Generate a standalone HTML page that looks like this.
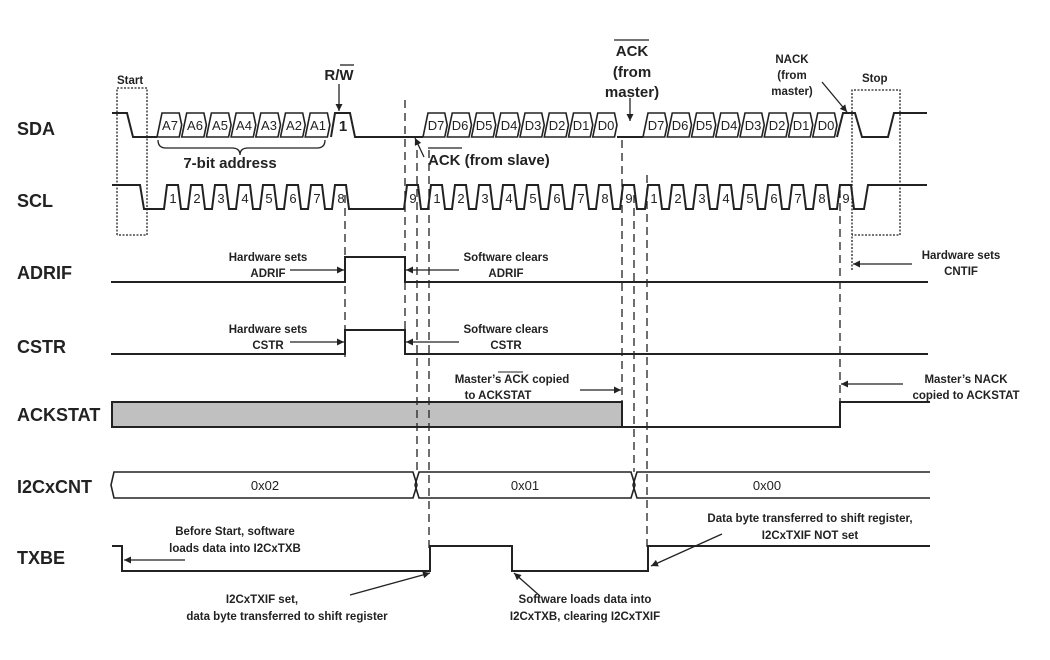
<!DOCTYPE html>
<html><head><meta charset="utf-8"><style>
html,body{margin:0;padding:0;background:#fff}
svg{display:block}
text{font-family:"Liberation Sans",Arial,sans-serif;fill:#222}
.n{font-size:18px;font-weight:bold}
.a{font-size:11.5px;font-weight:bold}
.c{font-size:13px}
.b{font-size:15px;font-weight:bold}
</style></head><body>
<svg width="1050" height="660" viewBox="0 0 1050 660" xmlns="http://www.w3.org/2000/svg">
<defs>
<marker id="ar" viewBox="0 0 10 10" refX="10" refY="5" markerWidth="9" markerHeight="7" markerUnits="userSpaceOnUse" orient="auto"><path d="M0,0 L10,5 L0,10 z" fill="#222"/></marker>
</defs>
<g fill="none" stroke="#222" stroke-width="2">
<!-- SDA -->
<polyline points="112,113 127,113 133,137 157,137"/>
<polyline points="331,137 335,113 350,113 355,137 423,137"/>
<polyline points="617,137 643,137"/>
<polyline points="837,137 843,113 855,113 862,137 888,137 894,113 927,113"/>
<!-- SCL -->
<path d="M112,185 H140 L144,209 H164 l3,-24 h11 l3,24 H188 l3,-24 h11 l3,24 H212 l3,-24 h11 l3,24 H236 l3,-24 h11 l3,24 H260 l3,-24 h11 l3,24 H284 l3,-24 h11 l3,24 H308 l3,-24 h11 l3,24 H332 l3,-24 h11 l3,24 H404 l3,-24 h11 l3,24 H428 l3,-24 h11 l3,24 H452 l3,-24 h11 l3,24 H476 l3,-24 h11 l3,24 H500 l3,-24 h11 l3,24 H524 l3,-24 h11 l3,24 H548 l3,-24 h11 l3,24 H572 l3,-24 h11 l3,24 H596 l3,-24 h11 l3,24 H620 l3,-24 h11 l3,24 H645 l3,-24 h11 l3,24 H669 l3,-24 h11 l3,24 H693 l3,-24 h11 l3,24 H717 l3,-24 h11 l3,24 H741 l3,-24 h11 l3,24 H765 l3,-24 h11 l3,24 H789 l3,-24 h11 l3,24 H813 l3,-24 h11 l3,24 H837 l3,-24 h11 l3,24 H864 L868,185 H927"/>
<!-- ADRIF -->
<polyline points="111,282 345,282 345,257 405,257 405,282 928,282"/>
<!-- CSTR -->
<polyline points="111,354 345,354 345,330 405,330 405,354 928,354"/>
<!-- ACKSTAT -->
<polyline points="622,427 840,427 840,402 930,402"/>
<!-- TXBE -->
<polyline points="112,546 122,546 122,571 430,571 430,546 512,546 512,571 648,571 648,546 930,546"/>
</g>
<rect x="112" y="402" width="510" height="25" fill="#c0c0c0" stroke="#222" stroke-width="2"/>
<!-- I2CxCNT -->
<g fill="none" stroke="#222" stroke-width="1.6">
<polyline points="930,472 637,472 633,485 637,498 930,498"/>
<polygon points="114,472 413,472 417,485 413,498 114,498 111,485"/>
<polygon points="419,472 631,472 635,485 631,498 419,498 415,485"/>
</g>
<!-- SDA cells -->
<g fill="none" stroke="#222" stroke-width="1.6">
<polygon points="157,137 162,113 179.2,113 181.7,125 179.2,137"/>
<polygon points="181.7,137 186.7,113 203.9,113 206.4,125 203.9,137"/>
<polygon points="206.4,137 211.4,113 228.6,113 231.1,125 228.6,137"/>
<polygon points="231.1,137 236.1,113 253.3,113 255.8,125 253.3,137"/>
<polygon points="255.8,137 260.8,113 278,113 280.5,125 278,137"/>
<polygon points="280.5,137 285.5,113 302.7,113 305.2,125 302.7,137"/>
<polygon points="305.2,137 310.2,113 327.4,113 329.9,125 327.4,137"/>

<polygon points="423,137 428,113 444.75,113 447.25,125 444.75,137"/>
<polygon points="447.25,137 452.25,113 469,113 471.5,125 469,137"/>
<polygon points="471.5,137 476.5,113 493.25,113 495.75,125 493.25,137"/>
<polygon points="495.75,137 500.75,113 517.5,113 520,125 517.5,137"/>
<polygon points="520,137 525,113 541.75,113 544.25,125 541.75,137"/>
<polygon points="544.25,137 549.25,113 566,113 568.5,125 566,137"/>
<polygon points="568.5,137 573.5,113 590.25,113 592.75,125 590.25,137"/>
<polygon points="592.75,137 597.75,113 614.5,113 617,125 614.5,137"/>

<polygon points="643,137 648,113 664.75,113 667.25,125 664.75,137"/>
<polygon points="667.25,137 672.25,113 689,113 691.5,125 689,137"/>
<polygon points="691.5,137 696.5,113 713.25,113 715.75,125 713.25,137"/>
<polygon points="715.75,137 720.75,113 737.5,113 740,125 737.5,137"/>
<polygon points="740,137 745,113 761.75,113 764.25,125 761.75,137"/>
<polygon points="764.25,137 769.25,113 786,113 788.5,125 786,137"/>
<polygon points="788.5,137 793.5,113 810.25,113 812.75,125 810.25,137"/>
<polygon points="812.75,137 817.75,113 834.5,113 837,125 834.5,137"/>
</g>
<g class="c" text-anchor="middle">
<text x="170" y="130">A7</text><text x="195" y="130">A6</text><text x="220" y="130">A5</text><text x="244" y="130">A4</text><text x="269" y="130">A3</text><text x="294" y="130">A2</text><text x="318" y="130">A1</text>
<text x="436" y="130">D7</text><text x="460" y="130">D6</text><text x="484" y="130">D5</text><text x="509" y="130">D4</text><text x="533" y="130">D3</text><text x="557" y="130">D2</text><text x="581" y="130">D1</text><text x="606" y="130">D0</text>
<text x="656" y="130">D7</text><text x="680" y="130">D6</text><text x="704" y="130">D5</text><text x="729" y="130">D4</text><text x="753" y="130">D3</text><text x="777" y="130">D2</text><text x="801" y="130">D1</text><text x="826" y="130">D0</text>
<text x="173" y="203">1</text><text x="197" y="203">2</text><text x="221" y="203">3</text><text x="245" y="203">4</text><text x="269" y="203">5</text><text x="293" y="203">6</text><text x="317" y="203">7</text><text x="341" y="203">8</text>
<text x="413" y="203">9</text>
<text x="437" y="203">1</text><text x="461" y="203">2</text><text x="485" y="203">3</text><text x="509" y="203">4</text><text x="533" y="203">5</text><text x="557" y="203">6</text><text x="581" y="203">7</text><text x="605" y="203">8</text>
<text x="629" y="203">9</text>
<text x="654" y="203">1</text><text x="678" y="203">2</text><text x="702" y="203">3</text><text x="726" y="203">4</text><text x="750" y="203">5</text><text x="774" y="203">6</text><text x="798" y="203">7</text><text x="822" y="203">8</text>
<text x="846" y="203">9</text>
</g>
<text x="343" y="131" font-size="15" font-weight="bold" text-anchor="middle">1</text>
<!-- dashed -->
<g stroke="#222" stroke-width="1.3" stroke-dasharray="8,5" fill="none">
<line x1="345" y1="195" x2="345" y2="357"/>
<line x1="405" y1="100" x2="405" y2="357"/>
<line x1="417" y1="150" x2="417" y2="472"/>
<line x1="429" y1="150" x2="429" y2="548"/>
<line x1="622" y1="140" x2="622" y2="402"/>
<line x1="634" y1="195" x2="634" y2="472"/>
<line x1="647" y1="175" x2="647" y2="548"/>
<line x1="840" y1="190" x2="840" y2="402"/>
</g>
<g stroke="#222" stroke-width="1.3" stroke-dasharray="2,1.5" fill="none">
<polyline points="117,235 117,88 147,88 147,235 117,235"/>
<polyline points="852,270 852,90 900,90 900,235 852,235"/>
</g>
<!-- arrows -->
<g stroke="#222" stroke-width="1.3" fill="none" marker-end="url(#ar)">
<line x1="339" y1="84" x2="339" y2="111"/>
<line x1="630" y1="98" x2="630" y2="121"/>
<line x1="822" y1="82" x2="847" y2="112"/>
<line x1="424" y1="157" x2="415" y2="138"/>
<line x1="290" y1="270" x2="344" y2="270"/>
<line x1="459" y1="270" x2="406" y2="270"/>
<line x1="290" y1="342" x2="344" y2="342"/>
<line x1="459" y1="342" x2="406" y2="342"/>
<line x1="912" y1="264" x2="853" y2="264"/>
<line x1="580" y1="390" x2="621" y2="390"/>
<line x1="903" y1="384" x2="841" y2="384"/>
<line x1="185" y1="560" x2="124" y2="560"/>
<line x1="350" y1="595" x2="430" y2="573"/>
<line x1="540" y1="596" x2="514" y2="573"/>
<line x1="722" y1="534" x2="651" y2="566"/>
</g>
<!-- brace -->
<path d="M158,140 Q158,148 166,148 L232,148 Q240,148 240,155 Q240,148 248,148 L317,148 Q325,148 325,140" fill="none" stroke="#222" stroke-width="1.3"/>
<!-- signal names -->
<text class="n" x="17" y="135">SDA</text>
<text class="n" x="17" y="207">SCL</text>
<text class="n" x="17" y="279">ADRIF</text>
<text class="n" x="17" y="353">CSTR</text>
<text class="n" x="17" y="421">ACKSTAT</text>
<text class="n" x="17" y="493">I2CxCNT</text>
<text class="n" x="17" y="564">TXBE</text>
<!-- top labels -->
<text class="a" x="117" y="84">Start</text>
<text class="a" x="862" y="82">Stop</text>
<text class="b" x="339" y="80" text-anchor="middle">R/W</text>
<line x1="340" y1="65" x2="354" y2="65" stroke="#222" stroke-width="1.3"/>
<text class="b" x="230" y="168" text-anchor="middle">7-bit address</text>
<text class="b" x="632" y="56" text-anchor="middle">ACK</text>
<line x1="614" y1="40" x2="649" y2="40" stroke="#222" stroke-width="1.3"/>
<text class="b" x="632" y="77" text-anchor="middle">(from</text>
<text class="b" x="632" y="97" text-anchor="middle">master)</text>
<text class="b" x="428" y="165">ACK (from slave)</text>
<line x1="428" y1="148" x2="462" y2="148" stroke="#222" stroke-width="1.3"/>
<text class="a" x="792" y="63" text-anchor="middle">NACK</text>
<text class="a" x="792" y="79" text-anchor="middle">(from</text>
<text class="a" x="792" y="95" text-anchor="middle">master)</text>
<!-- annotations -->
<text class="a" x="268" y="261" text-anchor="middle">Hardware sets</text>
<text class="a" x="268" y="277" text-anchor="middle">ADRIF</text>
<text class="a" x="506" y="261" text-anchor="middle">Software clears</text>
<text class="a" x="506" y="277" text-anchor="middle">ADRIF</text>
<text class="a" x="268" y="333" text-anchor="middle">Hardware sets</text>
<text class="a" x="268" y="349" text-anchor="middle">CSTR</text>
<text class="a" x="506" y="333" text-anchor="middle">Software clears</text>
<text class="a" x="506" y="349" text-anchor="middle">CSTR</text>
<text class="a" x="961" y="259" text-anchor="middle">Hardware sets</text>
<text class="a" x="961" y="275" text-anchor="middle">CNTIF</text>
<text class="a" x="512" y="383" text-anchor="middle">Master’s ACK copied</text>
<line x1="498" y1="372" x2="523" y2="372" stroke="#222" stroke-width="1"/>
<text class="a" x="498" y="399" text-anchor="middle">to ACKSTAT</text>
<text class="a" x="966" y="383" text-anchor="middle">Master’s NACK</text>
<text class="a" x="966" y="399" text-anchor="middle">copied to ACKSTAT</text>
<text class="c" x="265" y="490" text-anchor="middle">0x02</text>
<text class="c" x="525" y="490" text-anchor="middle">0x01</text>
<text class="c" x="767" y="490" text-anchor="middle">0x00</text>
<text class="a" x="235" y="535" text-anchor="middle">Before Start, software</text>
<text class="a" x="235" y="552" text-anchor="middle">loads data into I2CxTXB</text>
<text class="a" x="262" y="603" text-anchor="middle">I2CxTXIF set,</text>
<text class="a" x="287" y="620" text-anchor="middle">data byte transferred to shift register</text>
<text class="a" x="585" y="603" text-anchor="middle">Software loads data into</text>
<text class="a" x="585" y="620" text-anchor="middle">I2CxTXB, clearing I2CxTXIF</text>
<text class="a" x="810" y="522" text-anchor="middle">Data byte transferred to shift register,</text>
<text class="a" x="810" y="539" text-anchor="middle">I2CxTXIF NOT set</text>
</svg>
</body></html>
